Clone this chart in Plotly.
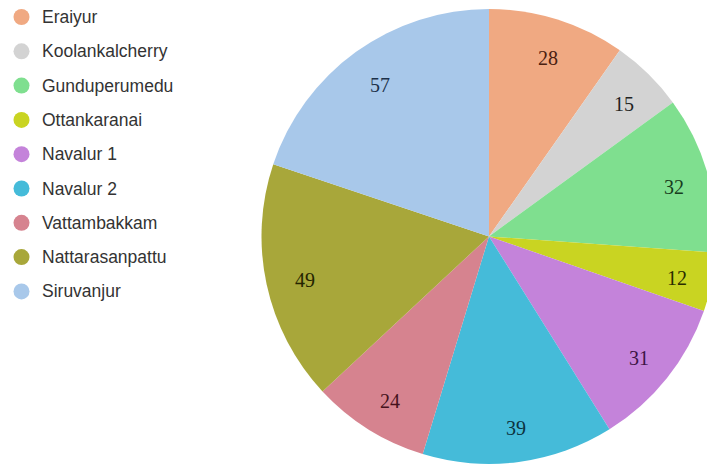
import math
import plotly.graph_objects as go

categories = ["Eraiyur", "Koolankalcherry", "Gunduperumedu", "Ottankaranai", "Navalur 1",
              "Navalur 2", "Vattambakkam", "Nattarasanpattu", "Siruvanjur"]
values = [28, 15, 32, 12, 31, 39, 24, 49, 57]
colors = ["#F0A982", "#D3D3D3", "#7FDF8F", "#C9D422", "#C483DA",
          "#45BBD9", "#D6838F", "#A8A73A", "#A8C8EA"]
text_colors = ["#4a2010", "#222222", "#173d20", "#2a2c00", "#3d1445",
               "#0c3340", "#45121c", "#242400", "#1c3048"]

W, H = 715, 470
dom_x = [0.3524, 0.993]
dom_y = [0.030, 0.998]

fig = go.Figure()
fig.add_trace(go.Pie(
    labels=categories,
    values=values,
    sort=False,
    direction="clockwise",
    rotation=0,
    marker=dict(colors=colors, line=dict(width=0)),
    textinfo="none",
    showlegend=False,
    hoverinfo="label+value",
    domain=dict(x=dom_x, y=dom_y),
))

# value labels placed along each slice's mid-angle, near the rim
cx = (dom_x[0] + dom_x[1]) / 2 * W
cy = (dom_y[0] + dom_y[1]) / 2 * H
R = min((dom_x[1] - dom_x[0]) * W, (dom_y[1] - dom_y[0]) * H) / 2
total = sum(values)
cum = 0
for v, tc in zip(values, text_colors):
    mid = (cum + v / 2) / total * 2 * math.pi
    cum += v
    rr = 0.835 * R
    px = cx + rr * math.sin(mid) + 2
    py = cy + rr * math.cos(mid) - 3
    fig.add_annotation(x=px / W, y=py / H, xref="paper", yref="paper",
                       text=str(v), showarrow=False, xanchor="center", yanchor="middle",
                       font=dict(family="Liberation Serif", size=20, color=tc))

# legend
y0, step = 9, 34.3
for i, (name, c) in enumerate(zip(categories, colors)):
    yc = y0 + i * step
    fig.add_shape(type="circle", xref="paper", yref="paper",
                  x0=(13.5 - 8) / W, x1=(13.5 + 8) / W,
                  y0=1 - (yc + 8) / H, y1=1 - (yc - 8) / H,
                  fillcolor=c, line=dict(width=0))
    fig.add_annotation(x=32 / W, y=1 - yc / H, xref="paper", yref="paper",
                       text=name, showarrow=False, xanchor="left", yanchor="middle",
                       font=dict(family="Liberation Sans", size=17.5, color="#333333"))

fig.update_layout(
    width=W, height=H,
    margin=dict(l=0, r=0, t=0, b=0),
    paper_bgcolor="white",
    plot_bgcolor="white",
)

fig.write_html("out.html")
